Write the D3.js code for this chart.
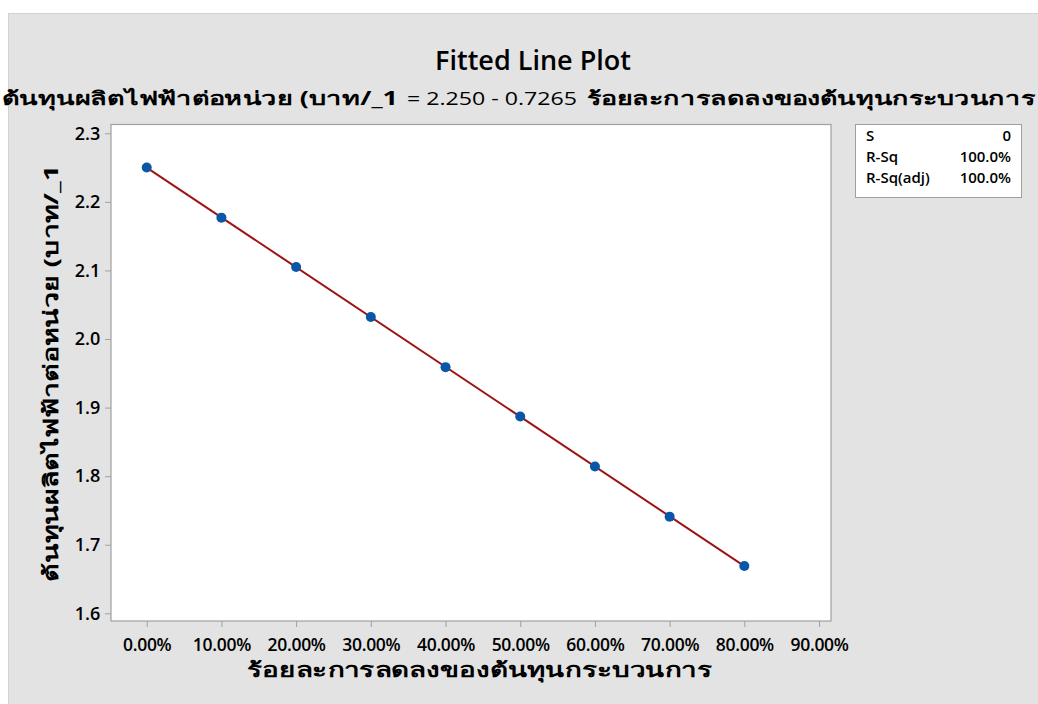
<!DOCTYPE html>
<html><head><meta charset="utf-8">
<script src="https://cdn.jsdelivr.net/npm/d3@7"></script>
<style>
body{margin:0;background:#fff;}
svg text{font-family:"Open Sans","Noto Sans",sans-serif;}
</style></head>
<body><svg id="c" width="1038" height="704"></svg>
<script>
const xValues = [0.0, 0.1, 0.2, 0.3, 0.4, 0.5, 0.6, 0.7, 0.8];
const yValues = [2.250, 2.177, 2.105, 2.032, 1.959, 1.887, 1.814, 1.741, 1.669];
const intercept = 2.250, slope = -0.7265;
const xTicks = [0, 0.1, 0.2, 0.3, 0.4, 0.5, 0.6, 0.7, 0.8, 0.9];
const yTicks = [1.6, 1.7, 1.8, 1.9, 2.0, 2.1, 2.2, 2.3];
const statLabels = ["S", "R-Sq", "R-Sq(adj)"];
const statValues = ["0", "100.0%", "100.0%"];
const title = "Fitted Line Plot";
const yLabel = "ต้นทุนผลิตไฟฟ้าต่อหน่วย (บาท/_1";
const xLabel = "ร้อยละการลดลงของต้นทุนกระบวนการ";
const equation = "= 2.250 - 0.7265";

const svg = d3.select("#c");
svg.append("rect").attr("x",8.5).attr("y",13.5).attr("width",1040).attr("height",700)
  .attr("fill","#e3e3e3").attr("stroke","#d2d2d2");

const L=111, R=831, T=124.5, B=621;
const x = d3.scaleLinear().domain([-0.0478, 0.916]).range([L, R]);
const y = d3.scaleLinear().domain([1.5888, 2.3128]).range([B, T]);

svg.append("rect").attr("x",L).attr("y",T).attr("width",R-L).attr("height",B-T)
  .attr("fill","#fff").attr("stroke","#a0a0a0").attr("stroke-width",1.2);

const xa = svg.append("g").attr("transform",`translate(0,${B})`)
  .call(d3.axisBottom(x).tickValues(xTicks).tickSize(6).tickSizeOuter(0).tickFormat(d3.format(".2%")));
const ya = svg.append("g").attr("transform",`translate(${L},0)`)
  .call(d3.axisLeft(y).tickValues(yTicks).tickSize(6).tickSizeOuter(0).tickFormat(d3.format(".1f")));
[xa,ya].forEach(a=>{
  a.select(".domain").remove();
  a.selectAll(".tick line").attr("stroke","#a0a0a0");
  a.selectAll("text").attr("fill","#000").style("font-size","17.5px").style("font-weight","600");
});
xa.selectAll("text").attr("dy","1.2em").style("letter-spacing","-0.3px");
ya.selectAll("text").attr("dx","-0.1em").style("font-size","18px");

const lineGen = d3.line().x(d=>x(d)).y(d=>y(intercept+slope*d));
svg.append("path").datum([xValues[0], xValues[xValues.length-1]]).attr("d",lineGen)
  .attr("fill","none").attr("stroke","#9c1414").attr("stroke-width",2);

svg.selectAll("circle.pt").data(xValues).join("circle").attr("class","pt")
  .attr("cx",d=>x(d)).attr("cy",(d,i)=>y(yValues[i])).attr("r",5)
  .attr("fill","#0a56a8");

svg.append("text").attr("x",533).attr("y",70).attr("text-anchor","middle")
  .style("font-size","27px").style("font-weight","600").text(title);

// subtitle: regression equation
svg.append("text").attr("x",2).attr("y",105).attr("textLength",396).attr("lengthAdjust","spacingAndGlyphs")
  .style("font-size","19px").style("font-weight","700").text(yLabel);
svg.append("text").attr("x",407).attr("y",105).attr("textLength",170).attr("lengthAdjust","spacingAndGlyphs")
  .style("font-size","19px").style("font-weight","500").text(equation);
svg.append("text").attr("x",587).attr("y",105).attr("textLength",448).attr("lengthAdjust","spacingAndGlyphs")
  .style("font-size","19px").style("font-weight","700").text(xLabel);

svg.append("text").attr("x",247).attr("y",677).attr("textLength",465).attr("lengthAdjust","spacingAndGlyphs")
  .style("font-size","20px").style("font-weight","700").text(xLabel);
svg.append("text").attr("transform","translate(58,582) rotate(-90)").attr("textLength",417).attr("lengthAdjust","spacingAndGlyphs")
  .style("font-size","20px").style("font-weight","700").text(yLabel);

svg.append("rect").attr("x",855.5).attr("y",124.5).attr("width",166).attr("height",73)
  .attr("fill","#fff").attr("stroke","#a0a0a0");
statLabels.forEach((s,i)=>{
  svg.append("text").attr("x",866).attr("y",141+i*21).style("font-size","15px").style("font-weight","600").text(s);
  svg.append("text").attr("x",1011).attr("y",141+i*21).attr("text-anchor","end").style("font-size","15px").style("font-weight","600").text(statValues[i]);
});
</script></body></html>
